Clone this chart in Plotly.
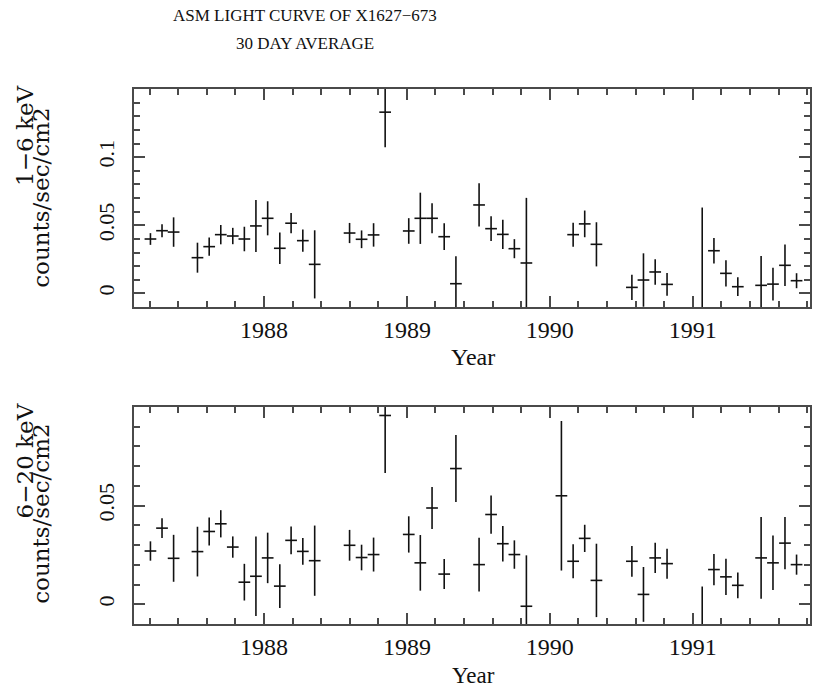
import plotly.graph_objects as go

years = [1987.206, 1987.287, 1987.368, 1987.535, 1987.617, 1987.698, 1987.782, 1987.863, 1987.944,
         1988.026, 1988.111, 1988.190, 1988.272, 1988.355, 1988.599, 1988.683, 1988.767, 1988.848,
         1989.013, 1989.094, 1989.176, 1989.261, 1989.343, 1989.505, 1989.589, 1989.671, 1989.752,
         1989.836, 1990.081, 1990.163, 1990.244, 1990.326, 1990.574, 1990.655, 1990.737, 1990.820,
         1991.066, 1991.148, 1991.232, 1991.315, 1991.478, 1991.561, 1991.645, 1991.726]

soft_flux = [0.0399, 0.046, 0.045, 0.0262, 0.0343, 0.0431, 0.0421, 0.0399, 0.0495,
             0.0551, 0.0331, 0.0515, 0.0387, 0.0213, 0.0443, 0.0397, 0.0429, 0.133,
             0.0458, 0.0551, 0.0551, 0.0416, 0.0071, 0.0649, 0.0475, 0.0433, 0.0328,
             0.0223, None, 0.0431, 0.051, 0.036, 0.0044, 0.0098, 0.0157, 0.0066,
             -0.02, 0.0313, 0.0147, 0.0049, 0.0059, 0.0068, 0.0206, 0.0093]
soft_err = [0.0043, 0.0048, 0.0108, 0.011, 0.0067, 0.0071, 0.006, 0.009, 0.0191,
            0.0125, 0.0115, 0.0074, 0.0081, 0.025, 0.0074, 0.0065, 0.0086, 0.0257,
            0.0094, 0.0188, 0.011, 0.0098, 0.0201, 0.0159, 0.0091, 0.0108, 0.007,
            0.0478, None, 0.0088, 0.0098, 0.0162, 0.0092, 0.0196, 0.0093, 0.0083,
            0.083, 0.0093, 0.0096, 0.0069, 0.0216, 0.012, 0.0152, 0.0055]

hard_flux = [0.027, 0.0386, 0.0233, 0.0267, 0.0369, 0.0408, 0.029, 0.0112, 0.0142,
             0.0235, 0.0092, 0.0324, 0.0268, 0.0221, 0.0299, 0.0237, 0.0252, 0.0957,
             0.0354, 0.021, 0.0488, 0.0153, 0.0688, 0.0201, 0.0455, 0.0307, 0.0252,
             -0.001, 0.055, 0.0218, 0.0334, 0.0121, 0.0218, 0.005, 0.0235, 0.0206,
             -0.015, 0.0176, 0.0139, 0.0096, 0.0235, 0.021, 0.031, 0.0201]
hard_err = [0.0049, 0.005, 0.0119, 0.0126, 0.0071, 0.0069, 0.0054, 0.0093, 0.0202,
            0.0128, 0.0111, 0.007, 0.0068, 0.0178, 0.0078, 0.0065, 0.0086, 0.0292,
            0.0092, 0.0141, 0.0107, 0.0076, 0.017, 0.0136, 0.0097, 0.009, 0.0072,
            0.0258, 0.0379, 0.0086, 0.0069, 0.0186, 0.0078, 0.0139, 0.0077, 0.0076,
            0.024, 0.0079, 0.0092, 0.0065, 0.0207, 0.0138, 0.0133, 0.0051]

half_bin = 0.041  # 15 days in years
x_ticks = [1988, 1989, 1990, 1991]
soft_ticks = [0, 0.05, 0.1]
hard_ticks = [0, 0.05]

W, H = 813, 689
L, R, T, B = 133.5, 1, 89, 65
PW, PH = W - L - R, H - T - B

def px_x(p):
    return (p - L) / PW

def px_y(p):
    return (H - B - p) / PH

SERIF = "Liberation Serif"
WIDE_SERIF = "DejaVu Serif"
INK = "#111111"
FRAME = "#4a4a4a"

fig = go.Figure()
for xs, ys, es, xa, ya in [(years, soft_flux, soft_err, "x", "y"),
                           (years, hard_flux, hard_err, "x2", "y2")]:
    fig.add_trace(go.Scatter(
        x=xs, y=ys, mode="markers", xaxis=xa, yaxis=ya,
        marker=dict(size=0.1, color=INK, opacity=0),
        error_x=dict(type="constant", value=half_bin, width=0, thickness=1.6, color=INK),
        error_y=dict(type="data", array=es, width=0, thickness=1.6, color=INK),
        showlegend=False, hoverinfo="skip"))

def xaxis_style(anchor):
    return dict(range=[1987.091, 1991.82], anchor=anchor, domain=[0, 1],
                tickvals=x_ticks, ticktext=[str(v) for v in x_ticks],
                ticks="inside", ticklen=11, tickwidth=1.5, tickcolor=FRAME,
                minor=dict(dtick=0.2, tick0=1987.0, ticks="inside", ticklen=6, tickwidth=1.5, tickcolor=FRAME),
                showline=True, linecolor=FRAME, linewidth=1.8, mirror="ticks",
                showgrid=False, zeroline=False,
                tickfont=dict(family=SERIF, size=24, color=INK), ticklabelstandoff=0)

def yaxis_style(anchor, rng, dom, tv):
    return dict(range=rng, anchor=anchor, domain=dom,
                tickvals=tv, ticktext=[f"{v:g}" for v in tv], tickangle=-90,
                ticks="inside", ticklen=11, tickwidth=1.5, tickcolor=FRAME,
                minor=dict(dtick=0.01, tick0=0, ticks="inside", ticklen=6, tickwidth=1.5, tickcolor=FRAME),
                showline=True, linecolor=FRAME, linewidth=1.8, mirror="ticks",
                showgrid=False, zeroline=False,
                tickfont=dict(family=SERIF, size=22, color=INK), ticklabelstandoff=9)

fig.update_layout(
    width=W, height=H, margin=dict(l=L, r=R, t=T, b=B),
    paper_bgcolor="white", plot_bgcolor="white",
    xaxis=xaxis_style("y"),
    yaxis=yaxis_style("x", [-0.01, 0.15], [px_y(307), 1], soft_ticks),
    xaxis2=xaxis_style("y2"),
    yaxis2=yaxis_style("x2", [-0.01, 0.1], [0, px_y(407)], hard_ticks),
)

ann = []
def add_text(text, x, y, size, xanchor="center", yanchor="middle", angle=0, family=SERIF):
    ann.append(dict(text=text, x=px_x(x), y=px_y(y), xref="paper", yref="paper",
                    xanchor=xanchor, yanchor=yanchor, textangle=angle, showarrow=False,
                    font=dict(family=family, size=size, color=INK)))

add_text("ASM LIGHT CURVE OF X1627−673", 305, 16, 17)
add_text("30 DAY AVERAGE", 305, 43, 17)
add_text("Year", 474, 357, 24)
add_text("Year", 474, 675, 23)
add_text("counts/sec/cm2", 40, 197, 23, angle=-90, family=WIDE_SERIF)
add_text("1−6 keV", 24, 84, 23, yanchor="top", angle=-90, family=WIDE_SERIF)
add_text("counts/sec/cm2", 40, 513, 23, angle=-90, family=WIDE_SERIF)
add_text("6−20 keV", 24, 401, 23, yanchor="top", angle=-90, family=WIDE_SERIF)
fig.update_layout(annotations=ann)

fig.write_html("out.html")
